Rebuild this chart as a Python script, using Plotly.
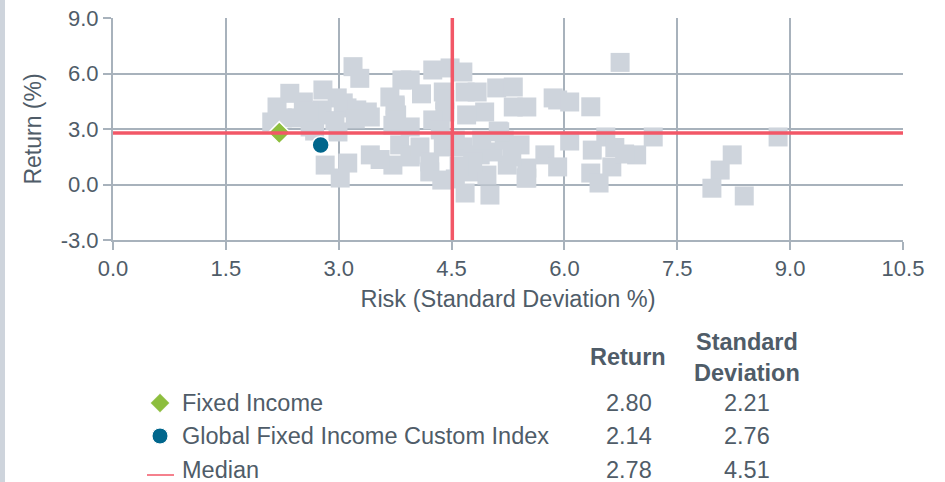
import plotly.graph_objs as go

# peer universe (risk = std dev %, ret = return %)
peer_risk = [
    2.11, 2.18, 2.35, 2.79, 2.53, 2.98, 3.11, 3.38, 3.42, 2.75, 2.45, 2.62, 2.68, 2.99,
    2.25, 2.78, 3.06, 3.24, 3.19, 3.28, 2.60, 2.95, 3.22,
    3.68, 3.84, 3.77, 3.81, 3.42, 3.72, 3.72, 3.95, 3.55, 2.82, 3.02, 3.12, 3.75,
    4.25, 4.48, 4.65, 3.95, 3.75, 3.75, 4.39, 4.41, 4.68, 4.84, 5.10, 5.32, 5.32, 5.50,
    5.85, 4.94, 4.70, 5.12, 3.95, 4.25, 4.10, 4.41,
    3.95, 4.08, 4.21, 4.21, 4.37, 4.39, 4.65, 4.68, 5.01, 4.74, 4.97, 5.24, 5.41, 5.50,
    5.50, 4.88, 5.05, 4.78, 5.74, 5.91, 4.55, 4.35, 4.60, 4.55, 5.20, 4.90, 5.30,
    6.74, 5.91, 6.07, 6.35, 6.55, 7.18, 6.07, 6.37, 6.67, 6.96, 6.35, 6.46, 6.63, 8.84,
    8.23, 8.07, 7.96, 8.39, 5.14, 5.49, 6.80,
]
peer_ret = [
    3.38, 4.19, 4.93, 5.11, 4.46, 4.68, 4.14, 3.92, 3.65, 3.76, 3.60, 3.11, 2.89, 2.84,
    3.60, 4.03, 4.41, 4.03, 6.37, 5.74, 3.95, 3.45, 3.55,
    4.73, 5.65, 3.76, 2.14, 1.60, 3.20, 1.05, 1.60, 1.35, 1.05, 0.35, 1.16, 4.20,
    6.19, 6.30, 6.08, 5.65, 4.30, 3.49, 5.00, 3.92, 5.00, 5.00, 5.22, 5.27, 4.19, 4.19,
    4.68, 3.92, 3.76, 2.89, 3.11, 3.49, 4.90, 4.60,
    1.49, 2.03, 1.22, 0.68, 0.24, 2.03, 2.03, -0.46, -0.57, 0.68, 0.51, 1.05, 2.14, 0.89,
    0.35, 1.60, 1.76, 1.22, 1.60, 0.95, 2.40, 2.95, 1.00, 0.30, 2.40, 2.40, 1.50,
    6.60, 4.57, 4.46, 4.20, 2.57, 2.57, 2.35, 1.86, 2.00, 1.60, 0.62, 0.08, 0.95, 2.57,
    1.60, 0.78, -0.20, -0.62, 2.85, 0.35, 1.65,
]

names = ["Fixed Income", "Global Fixed Income Custom Index", "Median"]
returns = [2.80, 2.14, 2.78]
std_devs = [2.21, 2.76, 4.51]

x_ticks = [0.0, 1.5, 3.0, 4.5, 6.0, 7.5, 9.0, 10.5]
y_ticks = [-3.0, 0.0, 3.0, 6.0, 9.0]

grey = "#A8B2BC"
text_col = "#4F5C68"
red = "#F25767"
green = "#8DBE3E"
blue = "#00668C"
font = "Liberation Sans, Arial, sans-serif"
config = {"displayModeBar": False}


# pixel -> paper helpers for the table below the chart
def px(x):
    return (x - 113) / 790.0


def py(y):
    return (482 - y) / 464.0


traces = [
    go.Scatter(
        x=peer_risk, y=peer_ret, mode="markers",
        marker=dict(symbol="square", size=19, color="#CED4DC", line=dict(width=0)),
        hoverinfo="skip",
    ),
    go.Scatter(
        x=[std_devs[1]], y=[returns[1]], mode="markers",
        marker=dict(symbol="circle", size=17, color=blue, line=dict(color="white", width=1.5)),
    ),
    go.Scatter(
        x=[std_devs[0]], y=[returns[0]], mode="markers",
        marker=dict(symbol="diamond", size=17, color=green, line=dict(color="white", width=1.5)),
    ),
    # legend markers in the table area
    go.Scatter(
        x=[160, 160], y=[403, 436], mode="markers", xaxis="x2", yaxis="y2",
        marker=dict(symbol=["diamond", "circle"], size=[15, 16], color=[green, blue],
                    opacity=1, line=dict(color="white", width=1)),
        hoverinfo="skip", cliponaxis=False,
    ),
]

layout = go.Layout(
    width=945, height=482,
    margin=dict(l=113, r=42, t=18, b=0),
    paper_bgcolor="white", plot_bgcolor="rgba(0,0,0,0)",
    showlegend=False,
    font=dict(family=font, size=22, color=text_col),
    xaxis=dict(
        range=[0, 10.5], tickvals=x_ticks, ticktext=["{:.1f}".format(v) for v in x_ticks],
        showgrid=True, gridcolor=grey, gridwidth=2,
        showline=True, linecolor=grey, linewidth=2,
        ticks="outside", ticklen=8, tickcolor=grey, tickwidth=2,
        zeroline=False, tickfont=dict(size=22, color=text_col),
        title=dict(text="Risk (Standard Deviation %)", font=dict(size=23.5, color=text_col), standoff=10),
        automargin=False,
    ),
    yaxis=dict(
        domain=[py(240), 1], range=[-3, 9], tickvals=y_ticks,
        ticktext=["{:.1f}".format(v) for v in y_ticks],
        showgrid=True, gridcolor=grey, gridwidth=2,
        showline=True, linecolor=grey, linewidth=2,
        ticks="outside", ticklen=8, tickcolor=grey, tickwidth=2,
        zeroline=False, tickfont=dict(size=22, color=text_col),
        title=dict(text="Return (%)", font=dict(size=23, color=text_col), standoff=13),
        automargin=False,
    ),
    xaxis2=dict(domain=[0, 1], range=[113, 903], anchor="y2", visible=False),
    yaxis2=dict(domain=[0, 1], range=[482, 18], anchor="x2", visible=False),
    shapes=[
        dict(type="line", xref="x", yref="y", x0=0, x1=10.5, y0=returns[2], y1=returns[2],
             line=dict(color=red, width=3.5), layer="above"),
        dict(type="line", xref="x", yref="y", x0=std_devs[2], x1=std_devs[2], y0=-3, y1=9,
             line=dict(color=red, width=3.5), layer="above"),
        dict(type="line", xref="paper", yref="paper", x0=px(147), x1=px(174), y0=py(475), y1=py(475),
             line=dict(color=red, width=1.5)),
        dict(type="rect", xref="paper", yref="paper", x0=px(0), x1=px(5), y0=py(482), y1=py(0),
             fillcolor="#CED4DC", line=dict(width=0), layer="below"),
    ],
)

annotations = [
    dict(text="<b>Return</b>", x=px(628), y=py(357)),
    dict(text="<b>Standard<br>Deviation</b>", x=px(747), y=py(357)),
]
rows_y = [403, 436, 470]
for name, ret, sd, yy in zip(names, returns, std_devs, rows_y):
    annotations.append(dict(text=name, x=px(180), y=py(yy), xanchor="left"))
    annotations.append(dict(text="{:.2f}".format(ret), x=px(629), y=py(yy)))
    annotations.append(dict(text="{:.2f}".format(sd), x=px(747), y=py(yy)))
for a in annotations:
    a.update(xref="paper", yref="paper", showarrow=False, yanchor="middle",
             font=dict(family=font, size=23.5, color=text_col))
    a.setdefault("xanchor", "center")
layout.annotations = annotations

fig = go.Figure(data=traces, layout=layout)
# drop the default 8px body margin so the figure sits at the window corner
fig.write_html("out.html", config=config, post_script="document.body.style.margin='0';")
